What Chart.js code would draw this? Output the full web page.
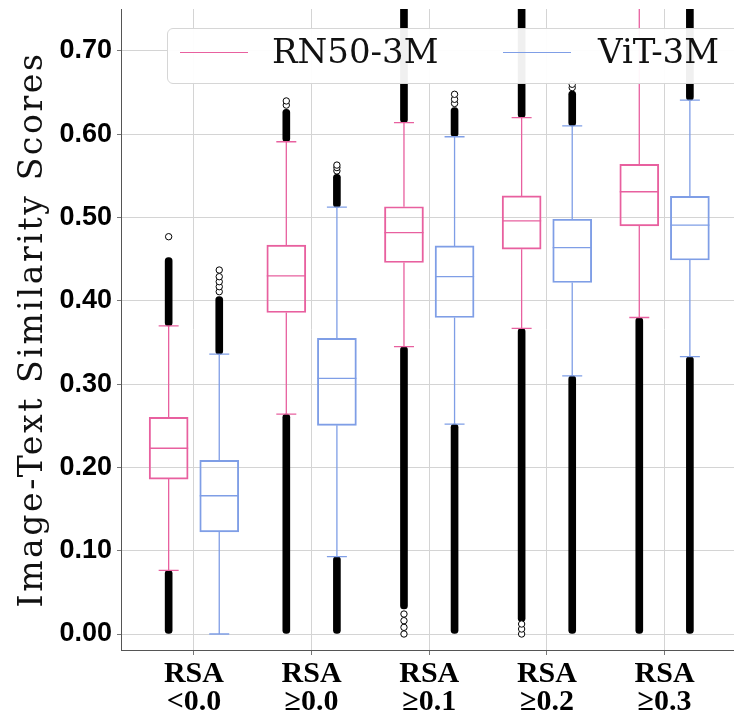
<!DOCTYPE html>
<html>
<head>
<meta charset="utf-8">
<script src="https://cdn.jsdelivr.net/npm/chart.js@4.4.1/dist/chart.umd.min.js"></script>
<style>
  html, body { margin: 0; padding: 0; background: #ffffff; }
  #wrap { position: relative; width: 734px; height: 718px; overflow: hidden; }
  #legend { position: absolute; left: 167px; top: 28px; width: 620px; height: 56px;
            background: rgba(255,255,255,0.94); border: 1px solid #d6d6d6; border-radius: 6px; box-sizing: border-box; }
  .lg-line { position: absolute; height: 0; border-top: 1.5px solid; width: 68px; }
  .lg-text { position: absolute; font-family: "DejaVu Serif", serif; font-size: 34px; line-height: 34px; color: #111; white-space: nowrap; }
</style>
</head>
<body>
<div id="wrap">
  <canvas id="c" width="734" height="718"></canvas>
  <div id="legend"></div>
</div>
<script>
// ---------------- data ----------------
const categories = [["RSA", "<0.0"], ["RSA", "\u22650.0"], ["RSA", "\u22650.1"], ["RSA", "\u22650.2"], ["RSA", "\u22650.3"]];
const yTickStep = 0.10;            // y tick labels: 0.00 ... 0.70
const seriesNames = ["RN50-3M", "ViT-3M"];

// RN50-3M
const rnQ1          = [0.186, 0.386, 0.446, 0.462, 0.490];
const rnMedian      = [0.223, 0.430, 0.482, 0.496, 0.531];
const rnQ3          = [0.260, 0.467, 0.513, 0.526, 0.564];
const rnWhiskerLow  = [0.0765, 0.264, 0.345, 0.367, 0.380];
const rnWhiskerHigh = [0.370, 0.591, 0.614, 0.620, 0.760];
const rnDenseLow    = [[0.0, 0.0765], [0.0, 0.264], [0.030, 0.345], [0.015, 0.367], [0.0, 0.380]];
const rnDenseHigh   = [[0.370, 0.452], [0.591, 0.630], [0.614, 0.800], [0.620, 0.800], null];
const rnSparse      = [[0.477], [0.635, 0.640], [0.0, 0.008, 0.016, 0.024], [0.0, 0.006, 0.012], []];

// ViT-3M
const vitQ1          = [0.1225, 0.2505, 0.380, 0.422, 0.449];
const vitMedian      = [0.166, 0.307, 0.429, 0.464, 0.491];
const vitQ3          = [0.2085, 0.355, 0.466, 0.498, 0.5255];
const vitWhiskerLow  = [0.000, 0.093, 0.252, 0.310, 0.333];
const vitWhiskerHigh = [0.336, 0.5126, 0.597, 0.610, 0.641];
const vitDenseLow    = [null, [0.0, 0.093], [0.0, 0.252], [0.0, 0.310], [0.0, 0.333]];
const vitDenseHigh   = [[0.336, 0.405], [0.5126, 0.552], [0.597, 0.632], [0.610, 0.652], [0.641, 0.800]];
const vitSparse      = [[0.411, 0.417, 0.423, 0.429, 0.437], [0.556, 0.560, 0.563], [0.637, 0.642, 0.648], [0.656, 0.660], []];

// ---------------- styling / geometry ----------------
const PINK = "#e8609f";
const BLUE = "#7f9ee6";
const GRID = "#d4d4d4";
const OFFSET = 0.215;     // group offset (category units)
const BOX_HALF = 0.166;   // half box width (category units)
const CAP_HALF = 0.085;   // half whisker-cap width

function gap() { return { x: NaN, y: NaN }; }

function boxDataset(q1, q3, off, color) {
  return {
    type: "bar", grouped: false, order: 1,
    data: q1.map((v, i) => ({ x: i + off, y: [v, q3[i]] })),
    barThickness: 39, backgroundColor: "rgba(255,255,255,0)",
    borderColor: color, borderWidth: 1.3, borderSkipped: false
  };
}
function whiskerDataset(q1, med, q3, wl, wh, off, color) {
  const pts = [];
  q1.forEach((v, i) => {
    const x = i + off;
    pts.push({ x: x, y: v }, { x: x, y: wl[i] }, gap());
    pts.push({ x: x - CAP_HALF, y: wl[i] }, { x: x + CAP_HALF, y: wl[i] }, gap());
    pts.push({ x: x, y: q3[i] }, { x: x, y: wh[i] }, gap());
    pts.push({ x: x - CAP_HALF, y: wh[i] }, { x: x + CAP_HALF, y: wh[i] }, gap());
    pts.push({ x: x - BOX_HALF, y: med[i] }, { x: x + BOX_HALF, y: med[i] }, gap());
  });
  return {
    type: "line", order: 2, data: pts, borderColor: color, borderWidth: 1.3,
    pointRadius: 0, spanGaps: false, tension: 0, fill: false
  };
}
function denseDataset(lowRanges, highRanges, off) {
  const d = [];
  lowRanges.forEach((r, i) => { if (r) d.push({ x: i + off, y: r }); });
  highRanges.forEach((r, i) => { if (r) d.push({ x: i + off, y: r }); });
  return {
    type: "bar", grouped: false, order: 4, data: d, barThickness: 7,
    backgroundColor: "#000", borderWidth: 0, borderRadius: 3.5, borderSkipped: false
  };
}
function sparseDataset(lists, off) {
  const d = [];
  lists.forEach((arr, i) => arr.forEach(v => d.push({ x: i + off, y: v })));
  return {
    type: "line", order: 3, data: d, showLine: false, fill: false,
    pointRadius: 3.2, pointBorderWidth: 1, pointBorderColor: "#000", pointBackgroundColor: "#fff"
  };
}

const datasets = [
  boxDataset(rnQ1, rnQ3, -OFFSET, PINK),
  boxDataset(vitQ1, vitQ3, OFFSET, BLUE),
  whiskerDataset(rnQ1, rnMedian, rnQ3, rnWhiskerLow, rnWhiskerHigh, -OFFSET, PINK),
  whiskerDataset(vitQ1, vitMedian, vitQ3, vitWhiskerLow, vitWhiskerHigh, OFFSET, BLUE),
  sparseDataset(rnSparse, -OFFSET),
  sparseDataset(vitSparse, OFFSET),
  denseDataset(rnDenseLow, rnDenseHigh, -OFFSET),
  denseDataset(vitDenseLow, vitDenseHigh, OFFSET)
];

// wider letter spacing for the y-axis title (reference uses a wide serif)
const titleSpacingPlugin = {
  id: "titleSpacing",
  beforeDraw(chart) {
    const ys = chart.scales.y;
    if (ys && !ys.__patched) {
      const orig = ys.drawTitle;
      ys.drawTitle = function () {
        const c = this.ctx; const prev = c.letterSpacing;
        c.letterSpacing = "2.6px"; orig.apply(this, arguments); c.letterSpacing = prev || "0px";
      };
      ys.__patched = true;
    }
  }
};

new Chart(document.getElementById("c"), {
  type: "bar",
  data: { datasets: datasets },
  plugins: [titleSpacingPlugin],
  options: {
    responsive: false, animation: false, devicePixelRatio: 1,
    layout: { autoPadding: false, padding: { top: 9, right: 0, left: 0, bottom: 0 } },
    plugins: { legend: { display: false }, tooltip: { enabled: false } },
    scales: {
      x: {
        type: "linear", min: -0.62, max: 4.59, offset: false,
        afterFit: s => { s.height = 68; s.paddingLeft = 0; s.paddingRight = 0; },
        grid: { offset: false, color: GRID, lineWidth: 1, tickLength: 5, tickColor: "#777" },
        border: { color: "#555", width: 1 },
        ticks: {
          stepSize: 1, includeBounds: false,
          autoSkip: false, maxRotation: 0, minRotation: 0, padding: 5, color: "#000",
          font: { family: "'Liberation Serif', serif", size: 30, weight: "bold", lineHeight: 0.94 },
          callback: v => categories[v]
        }
      },
      y: {
        type: "linear", min: -0.0192, max: 0.7504,
        afterFit: s => { s.width = 121; s.paddingTop = 0; s.paddingBottom = 0; },
        grid: { color: GRID, lineWidth: 1, tickLength: 4, tickColor: "#777" },
        border: { color: "#555", width: 1 },
        ticks: {
          stepSize: yTickStep, includeBounds: false,
          padding: 5, color: "#000",
          font: { family: "'Liberation Sans', Arial, sans-serif", size: 27, weight: "bold" },
          callback: v => Number(v).toFixed(2)
        },
        title: {
          display: true, text: "Image-Text Similarity Scores", color: "#111",
          font: { family: "'DejaVu Serif', serif", size: 33, weight: "normal", lineHeight: 1.2 },
          padding: { top: 14, bottom: 0 }
        }
      }
    }
  }
});

// legend (HTML overlay, real text)
const legend = document.getElementById("legend");
const legendItems = [
  { name: seriesNames[0], color: PINK, lineLeft: 12, textLeft: 104 },
  { name: seriesNames[1], color: BLUE, lineLeft: 335, textLeft: 430 }
];
legendItems.forEach(it => {
  const ln = document.createElement("div");
  ln.className = "lg-line";
  ln.style.left = it.lineLeft + "px";
  ln.style.top = "23px";
  ln.style.borderTopColor = it.color;
  legend.appendChild(ln);
  const tx = document.createElement("div");
  tx.className = "lg-text";
  tx.style.left = it.textLeft + "px";
  tx.style.top = "5px";
  tx.textContent = it.name;
  legend.appendChild(tx);
});
</script>
</body>
</html>
